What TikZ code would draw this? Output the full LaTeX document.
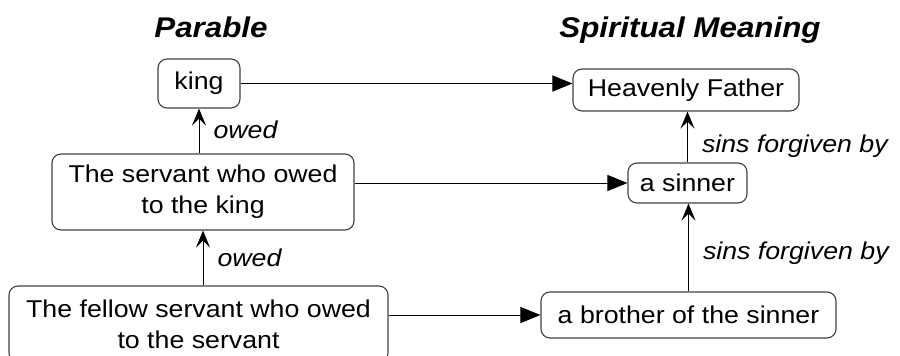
\documentclass[tikz,border=0pt]{standalone}
\usepackage{fontspec}
\setmainfont{Liberation Sans}[FakeStretch=1.1]
\usetikzlibrary{calc,arrows.meta}
\tikzstyle{box}=[draw=black!75, line width=1.1pt, rounded corners=9pt, align=center, inner sep=0pt, font=\fontsize{24.3}{31}\selectfont]
\tikzstyle{title}=[anchor=base, font=\fontsize{28.5}{34}\selectfont\bfseries\itshape]
\tikzstyle{lbl}=[right, inner sep=0pt, xshift=14pt, font=\fontsize{24.3}{31}\selectfont\itshape]
\tikzstyle{tri}=[-{Triangle[length=20pt,width=16pt]}, line width=1pt]
\tikzstyle{up}=[-{Stealth[length=17pt,width=14pt,inset=7pt]}, line width=1pt]

\begin{document}
\begin{tikzpicture}[x=1pt,y=-1pt]
\useasboundingbox (0,0) rectangle (900,356);
\node[title] (parable) at (211,37) {Parable};
\node[title] (meaning) at (690,37) {Spiritual Meaning};
\node[box, minimum width=82pt, minimum height=49pt] (king) at (199,83.5) {king};
\node[box, minimum width=302pt, minimum height=76pt] at ($(king)+(4,108.5)$) (servant) {The servant who owed\\to the king};
\node[box, minimum width=379pt, minimum height=76pt] at ($(servant)+(-4.5,132)$) (fellow) {The fellow servant who owed\\to the servant};
\node[box, minimum width=226pt, minimum height=42pt] at ($(king)+(487,6.5)$) (father) {Heavenly Father};
\node[box, minimum width=119pt, minimum height=40pt] at ($(father)+(1.5,93)$) (sinner) {a sinner};
\node[box, minimum width=295pt, minimum height=46pt] at ($(sinner)+(1,132)$) (brother) {a brother of the sinner};
\draw[tri] (king.east) -- (king.east -| father.west);
\draw[tri] (servant.east |- sinner) -- (sinner.west);
\draw[tri] (fellow.east |- brother) -- (brother.west);
\draw[up] (servant.north -| king) -- node[lbl, pos=0.52] {owed} (king.south);
\draw[up] (fellow.north -| servant) -- node[lbl, pos=0.5] {owed} (servant.south);
\draw[up] (sinner.north) -- node[lbl, pos=0.31] {sins forgiven by} (sinner.north |- father.south);
\draw[up] (brother.north) -- node[lbl, pos=0.43] {sins forgiven by} (brother.north |- sinner.south);
\end{tikzpicture}
\end{document}
